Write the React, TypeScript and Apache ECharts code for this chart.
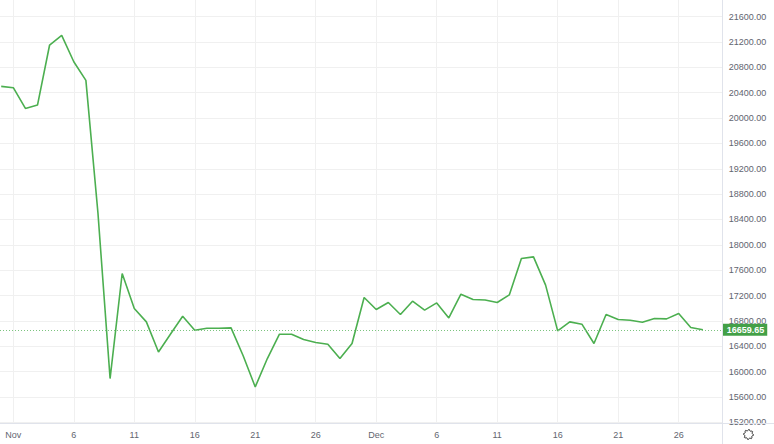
import React, { useEffect, useRef } from "react";
import * as echarts from "echarts";

const dates: string[] = [
  "2022-10-31",
  "2022-11-01","2022-11-02","2022-11-03","2022-11-04","2022-11-05","2022-11-06","2022-11-07","2022-11-08","2022-11-09","2022-11-10",
  "2022-11-11","2022-11-12","2022-11-13","2022-11-14","2022-11-15","2022-11-16","2022-11-17","2022-11-18","2022-11-19","2022-11-20",
  "2022-11-21","2022-11-22","2022-11-23","2022-11-24","2022-11-25","2022-11-26","2022-11-27","2022-11-28","2022-11-29","2022-11-30",
  "2022-12-01","2022-12-02","2022-12-03","2022-12-04","2022-12-05","2022-12-06","2022-12-07","2022-12-08","2022-12-09","2022-12-10",
  "2022-12-11","2022-12-12","2022-12-13","2022-12-14","2022-12-15","2022-12-16","2022-12-17","2022-12-18","2022-12-19","2022-12-20",
  "2022-12-21","2022-12-22","2022-12-23","2022-12-24","2022-12-25","2022-12-26","2022-12-27","2022-12-28",
];

const prices: number[] = [
  20500,
  20480, 20153, 20206, 21153, 21306, 20889, 20595, 18495, 15890, 17548,
  16995, 16784, 16310, 16593, 16874, 16653, 16685, 16685, 16690, 16250,
  15758, 16206, 16590, 16590, 16506, 16459, 16432, 16206, 16443, 17169,
  16980, 17090, 16901, 17111, 16969, 17084, 16847, 17221, 17137, 17130,
  17090, 17210, 17785, 17810, 17364, 16642, 16784, 16748, 16443, 16901,
  16822, 16811, 16779, 16838, 16832, 16917, 16696, 16659.65,
];

const lastPrice = 16659.65;

// day offsets from Nov 1 where the time-axis labels sit
const xTickDays: number[] = [0, 5, 10, 15, 20, 25, 30, 35, 40, 45, 50, 55];
const xTickLabels: string[] = ["Nov", "6", "11", "16", "21", "26", "Dec", "6", "11", "16", "21", "26"];

const yTicks: number[] = [
  15200, 15600, 16000, 16400, 16800, 17200, 17600, 18000, 18400, 18800,
  19200, 19600, 20000, 20400, 20800, 21200, 21600,
];

const GREEN = "#4caf50";
const LABEL_GREEN = "#43a047";
const TEXT = "#62656f";
const FONT = "'Liberation Sans', Arial, sans-serif";

export default function App() {
  const ref = useRef<HTMLDivElement>(null);

  useEffect(() => {
    if (!ref.current) return;
    const chart = echarts.init(ref.current, undefined, { renderer: "svg" });

    const origin = new Date("2022-11-01T00:00:00Z").getTime();
    const seriesData = dates.map((d, i) => [
      Math.round((new Date(d + "T00:00:00Z").getTime() - origin) / 86400000),
      prices[i],
    ]);

    // gear icon outline
    const gearPts: number[][] = [];
    const cx = 748.5, cy = 434.5;
    for (let k = 0; k < 32; k++) {
      const a = (k / 32) * Math.PI * 2;
      const r = Math.floor(k / 2) % 2 === 0 ? 5 : 3.8;
      gearPts.push([cx + r * Math.cos(a), cy + r * Math.sin(a)]);
    }

    chart.setOption({
      animation: false,
      backgroundColor: "#ffffff",
      grid: { left: 0, top: 0, right: 51.3, bottom: 20, containLabel: false },
      xAxis: {
        type: "value",
        min: -1.1,
        max: 58.64,
        axisLine: { show: false },
        axisTick: { show: false, customValues: xTickDays },
        splitLine: { show: true, lineStyle: { color: "#f0f0f0", width: 1 } },
        axisLabel: {
          customValues: xTickDays,
          margin: 6,
          color: TEXT,
          fontSize: 9,
          fontFamily: FONT,
          formatter: (v: number) => {
            const idx = xTickDays.indexOf(Math.round(v));
            return idx >= 0 ? xTickLabels[idx] : "";
          },
        },
      },
      yAxis: {
        type: "value",
        position: "right",
        min: 15173,
        max: 21863.5,
        axisLine: { show: false },
        axisTick: { show: false, customValues: yTicks },
        splitLine: { show: true, lineStyle: { color: "#f0f0f0", width: 1 } },
        axisLabel: {
          customValues: yTicks,
          margin: 6,
          color: TEXT,
          fontSize: 9,
          fontFamily: FONT,
          formatter: (v: number) => v.toFixed(2),
        },
      },
      series: [
        {
          type: "line",
          data: seriesData,
          showSymbol: false,
          symbol: "none",
          lineStyle: { color: GREEN, width: 1.6 },
          markLine: {
            silent: true,
            symbol: "none",
            lineStyle: { color: "#7cc47f", type: [1, 2], width: 1, opacity: 1 },
            label: {
              show: true,
              position: "end",
              distance: 0,
              formatter: lastPrice.toFixed(2),
              backgroundColor: LABEL_GREEN,
              color: "#ffffff",
              fontSize: 9,
              fontWeight: "bold",
              fontFamily: FONT,
              padding: [1, 3, 1, 4],
              lineHeight: 10,
            },
            data: [{ yAxis: lastPrice }],
          },
        },
      ],
      graphic: [
        {
          type: "line",
          shape: { x1: 0, y1: 423.5, x2: 774, y2: 423.5 },
          style: { stroke: "#e0e3eb", lineWidth: 1 },
          z: 10,
        },
        {
          type: "line",
          shape: { x1: 722.5, y1: 0, x2: 722.5, y2: 444 },
          style: { stroke: "#e0e3eb", lineWidth: 1 },
          z: 10,
        },
        {
          type: "polygon",
          shape: { points: gearPts },
          style: { fill: "none", stroke: "#444", lineWidth: 1 },
          z: 10,
        },
      ],
    });

    return () => chart.dispose();
  }, []);

  return (
    <div
      ref={ref}
      style={{ position: "fixed", left: 0, top: 0, width: 774, height: 444 }}
    />
  );
}
